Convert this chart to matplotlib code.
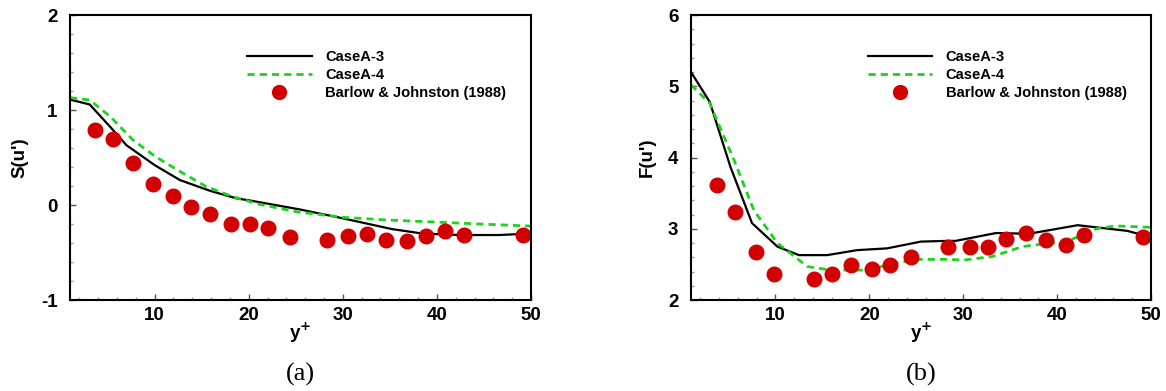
import matplotlib
matplotlib.use('Agg')
import matplotlib.pyplot as plt
from matplotlib.ticker import MultipleLocator

# experimental points, Barlow & Johnston (1988)
exp_x_s = [3.7, 5.6, 7.7, 9.8, 11.9, 13.9, 15.9, 18.1, 20.1, 22.1, 24.4,
           28.3, 30.5, 32.6, 34.6, 36.8, 38.8, 40.9, 42.9, 49.2]
exp_s = [0.79, 0.69, 0.44, 0.22, 0.09, -0.025, -0.09, -0.196, -0.196, -0.246, -0.34,
         -0.368, -0.326, -0.309, -0.365, -0.375, -0.323, -0.27, -0.319, -0.319]

exp_x_f = [3.8, 5.7, 7.9, 9.8, 14.1, 16.0, 18.1, 20.3, 22.2, 24.4,
           28.4, 30.7, 32.6, 34.6, 36.7, 38.8, 40.9, 42.9, 49.1]
exp_f = [3.62, 3.23, 2.67, 2.37, 2.30, 2.37, 2.49, 2.44, 2.49, 2.60,
         2.74, 2.74, 2.74, 2.86, 2.945, 2.84, 2.77, 2.91, 2.89]

# CaseA-3 / CaseA-4, skewness
s3_x = [1, 3.1, 5.3, 7.0, 10.0, 12.7, 15.9, 18.7, 20.0, 25.4, 30.0, 35.2, 38.3, 40.7, 42.6, 46.6, 50]
s3_y = [1.11, 1.058, 0.82, 0.63, 0.42, 0.262, 0.149, 0.07, 0.05, -0.046, -0.14, -0.253, -0.298, -0.31, -0.316, -0.316, -0.30]
s4_x = [1, 3.1, 5.3, 7.7, 10.1, 12.4, 15.5, 18.3, 21.0, 25.0, 30.1, 34.8, 38.7, 44.6, 50]
s4_y = [1.13, 1.105, 0.93, 0.684, 0.509, 0.37, 0.193, 0.088, 0.011, -0.07, -0.13, -0.158, -0.175, -0.2, -0.222]

# CaseA-3 / CaseA-4, flatness
f3_x = [1, 3.0, 5.2, 7.5, 10.2, 12.5, 15.5, 18.7, 21.9, 25.5, 28.3, 29.2, 33.5, 37.0, 42.2, 47.5, 50]
f3_y = [5.2, 4.78, 3.87, 3.08, 2.75, 2.63, 2.63, 2.70, 2.725, 2.82, 2.83, 2.83, 2.94, 2.93, 3.05, 2.97, 2.88]
f4_x = [1, 3.0, 5.6, 7.7, 10.2, 13.4, 15.9, 19.8, 22.3, 25.1, 28.6, 30.0, 33.1, 36.3, 39.4, 41.0, 44.2, 46.2, 50]
f4_y = [5.02, 4.76, 3.96, 3.26, 2.80, 2.47, 2.42, 2.42, 2.505, 2.57, 2.57, 2.56, 2.61, 2.75, 2.80, 2.82, 3.0, 3.04, 3.02]

labels = ['CaseA-3', 'CaseA-4', 'Barlow & Johnston (1988)']
green = '#1ed21e'
red = '#d20000'

plt.rcParams['font.family'] = ['Liberation Sans', 'DejaVu Sans']
plt.rcParams['font.weight'] = 'bold'
plt.rcParams['axes.unicode_minus'] = False

fig = plt.figure(figsize=(11.66, 3.91), dpi=100)
ax1 = fig.add_axes([0.0600, 0.2327, 0.3954, 0.7289])
ax2 = fig.add_axes([0.5926, 0.2327, 0.3945, 0.7289])


def panel(ax, ex, ey, x3, y3, x4, y4, ylim, ylab, cap):
    ax.plot(x3, y3, color='black', lw=1.6, label=labels[0])
    ax.plot(x4, y4, color=green, lw=2.0, ls=(0, (2.6, 1.8)), label=labels[1])
    ax.plot(ex, ey, 'o', color=red, ms=10.5, ls='none', label=labels[2], clip_on=False)
    ax.set_xlim(1, 50)
    ax.set_ylim(*ylim)
    ax.xaxis.set_major_locator(MultipleLocator(10))
    ax.xaxis.set_minor_locator(MultipleLocator(2))
    ax.yaxis.set_major_locator(MultipleLocator(1))
    ax.yaxis.set_minor_locator(MultipleLocator(0.2))
    ax.tick_params(which='both', direction='in', top=False, right=False,
                   labelsize=13.5, width=1.0, color='#555555')
    ax.tick_params(which='major', length=4.5)
    ax.tick_params(which='minor', length=2.5, color='#999999')
    ax.tick_params(axis='x', pad=5)
    ax.tick_params(axis='y', pad=9)
    for sp in ax.spines.values():
        sp.set_linewidth(1.5)
    ax.set_xlabel('y$^{\\mathbf{+}}$', fontsize=13.5, fontweight='bold', labelpad=-2)
    ax.set_ylabel(ylab, fontsize=13.5, fontweight='bold', labelpad=9)
    ax.legend(loc='upper left', bbox_to_anchor=(0.384, 0.878), frameon=False,
              fontsize=10.6, handlelength=4.4, handletextpad=0.9, labelspacing=0.28,
              borderpad=0, borderaxespad=0, numpoints=1, markerscale=0.95)
    ax.text(0.5, -0.262, cap, transform=ax.transAxes, ha='center', va='center',
            fontsize=19, fontweight='normal', family='Liberation Serif')


panel(ax1, exp_x_s, exp_s, s3_x, s3_y, s4_x, s4_y, (-1, 2), "S(u')", '(a)')
panel(ax2, exp_x_f, exp_f, f3_x, f3_y, f4_x, f4_y, (2, 6), "F(u')", '(b)')

fig.savefig('out.png', dpi=100)
